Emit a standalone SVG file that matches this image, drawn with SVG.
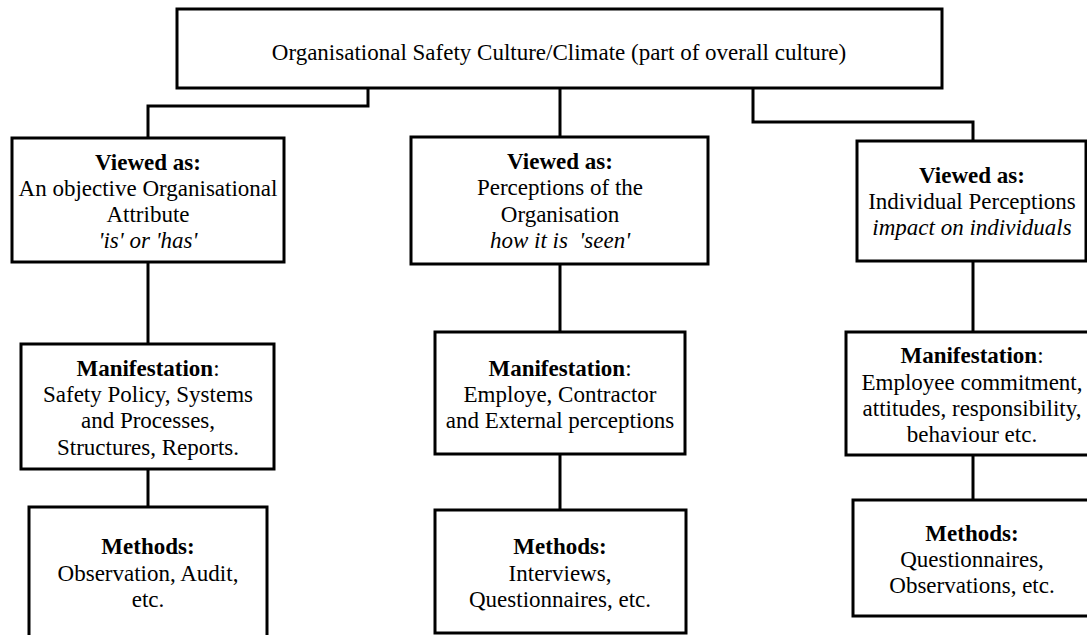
<svg xmlns="http://www.w3.org/2000/svg" width="1087" height="635" viewBox="0 0 1087 635">
  <style>
    .box { fill: #ffffff; stroke: #000000; stroke-width: 3; }
    .wire { fill: none; stroke: #000000; stroke-width: 3; }
    text { font-family: "Liberation Serif", "Times New Roman", serif; font-size: 23px; fill: #000000; text-anchor: middle; }
    .b { font-weight: bold; }
    .i { font-style: italic; }
  </style>
  <rect width="1087" height="635" fill="#ffffff"/>

  <!-- connectors -->
  <g id="connectors">
    <polyline class="wire" points="368,88 368,106 148,106 148,138"/>
    <polyline class="wire" points="560,88 560,137"/>
    <polyline class="wire" points="753,88 753,122 973,122 973,141"/>
    <line class="wire" x1="148" y1="262" x2="148" y2="344"/>
    <line class="wire" x1="148" y1="469" x2="148" y2="507"/>
    <line class="wire" x1="560" y1="264" x2="560" y2="332"/>
    <line class="wire" x1="560" y1="454" x2="560" y2="510"/>
    <line class="wire" x1="973" y1="261" x2="973" y2="332"/>
    <line class="wire" x1="973" y1="455" x2="973" y2="500"/>
  </g>

  <!-- root -->
  <g id="culture">
    <rect class="box" x="177" y="9" width="765" height="79"/>
    <text x="559" y="60">Organisational Safety Culture/Climate (part of overall culture)</text>
  </g>

  <!-- left column -->
  <g id="viewed-attribute">
    <rect class="box" x="12" y="138" width="272" height="124"/>
    <text x="148" y="170" class="b">Viewed as:</text>
    <text x="148" y="196">An objective Organisational</text>
    <text x="148" y="222">Attribute</text>
    <text x="148" y="248" class="i">'is' or 'has'</text>
  </g>
  <g id="manifest-attribute">
    <rect class="box" x="21" y="344" width="253" height="125"/>
    <text x="148" y="376"><tspan class="b">Manifestation</tspan>:</text>
    <text x="148" y="402">Safety Policy, Systems</text>
    <text x="148" y="428">and Processes,</text>
    <text x="148" y="455">Structures, Reports.</text>
  </g>
  <g id="methods-attribute">
    <rect class="box" x="29" y="507" width="238" height="140"/>
    <text x="148" y="554" class="b">Methods:</text>
    <text x="148" y="581">Observation, Audit,</text>
    <text x="148" y="607">etc.</text>
  </g>

  <!-- middle column -->
  <g id="viewed-perceptions">
    <rect class="box" x="411" y="137" width="297" height="127"/>
    <text x="560" y="169" class="b">Viewed as:</text>
    <text x="560" y="195">Perceptions of the</text>
    <text x="560" y="222">Organisation</text>
    <text x="560" y="248" class="i" style="white-space:pre">how it is  'seen'</text>
  </g>
  <g id="manifest-perceptions">
    <rect class="box" x="435" y="332" width="250" height="122"/>
    <text x="560" y="376"><tspan class="b">Manifestation</tspan>:</text>
    <text x="560" y="402">Employe, Contractor</text>
    <text x="560" y="428">and External perceptions</text>
  </g>
  <g id="methods-perceptions">
    <rect class="box" x="435" y="510" width="251" height="123"/>
    <text x="560" y="554" class="b">Methods:</text>
    <text x="560" y="581">Interviews,</text>
    <text x="560" y="607">Questionnaires, etc.</text>
  </g>

  <!-- right column -->
  <g id="viewed-individual">
    <rect class="box" x="857" y="141" width="229" height="120"/>
    <text x="972" y="183" class="b">Viewed as:</text>
    <text x="972" y="209">Individual Perceptions</text>
    <text x="972" y="235" class="i">impact on individuals</text>
  </g>
  <g id="manifest-individual">
    <rect class="box" x="846" y="332" width="254" height="123"/>
    <text x="972" y="363"><tspan class="b">Manifestation</tspan>:</text>
    <text x="972" y="390">Employee commitment,</text>
    <text x="972" y="416">attitudes, responsibility,</text>
    <text x="972" y="442">behaviour etc.</text>
  </g>
  <g id="methods-individual">
    <rect class="box" x="853" y="500" width="240" height="116"/>
    <text x="972" y="541" class="b">Methods:</text>
    <text x="972" y="567">Questionnaires,</text>
    <text x="972" y="593">Observations, etc.</text>
  </g>
</svg>
